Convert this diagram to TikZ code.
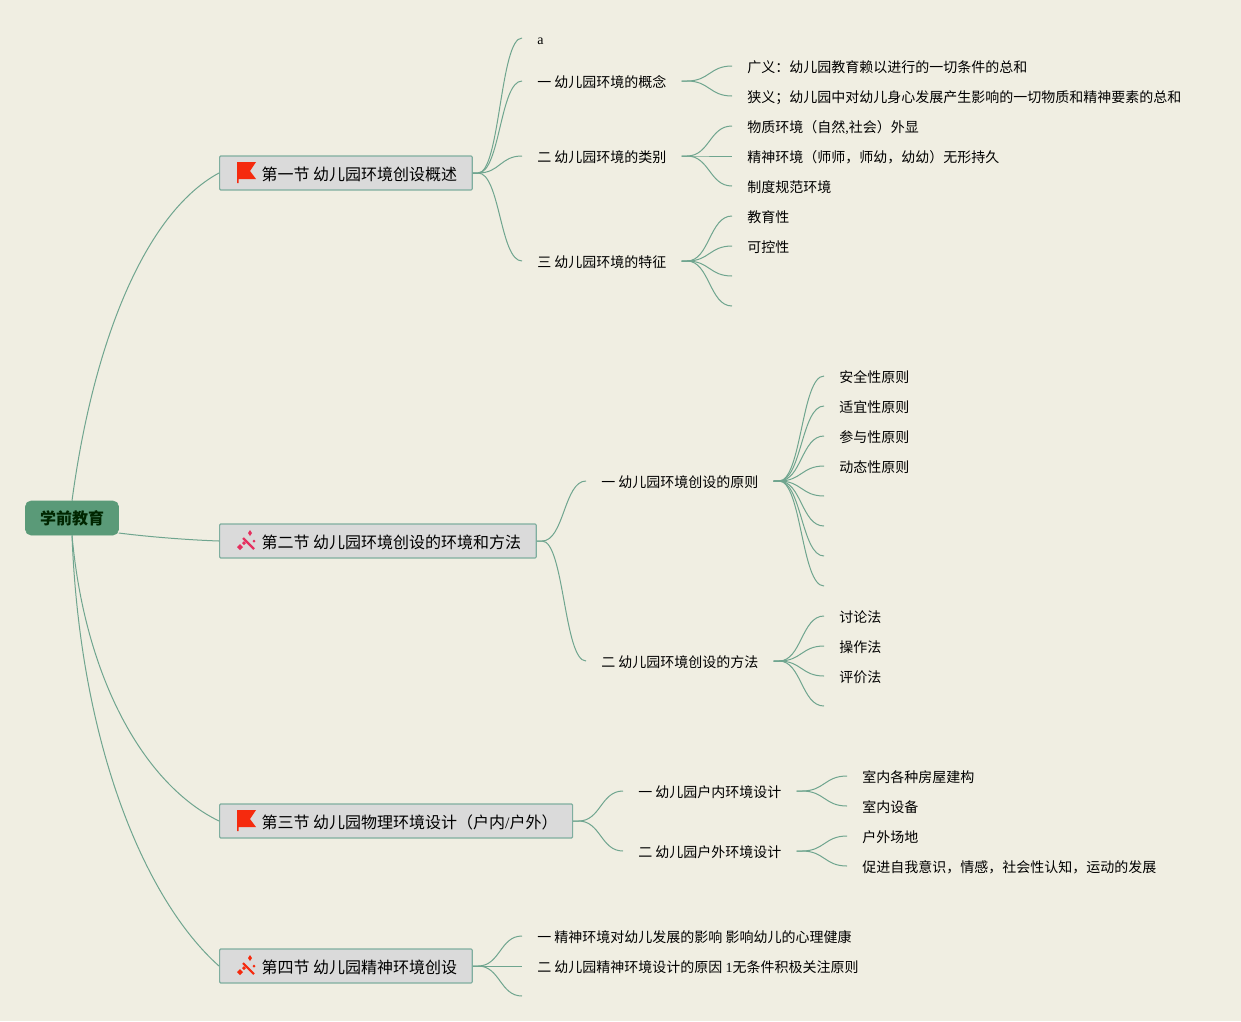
\documentclass[tikz,border=0pt]{standalone}
\usepackage{fontspec}
\setmainfont{Noto Sans CJK SC}
\newfontfamily\latinfont{Liberation Serif}
\usepackage{tikz}
\usetikzlibrary{calc}

\definecolor{paper}{HTML}{F0EEE2}
\definecolor{linkgreen}{HTML}{6FA58F}
\definecolor{rootgreen}{HTML}{5A9A78}
\definecolor{secgray}{HTML}{DADADA}
\definecolor{secedge}{HTML}{7FAE9F}
\definecolor{flagred}{HTML}{F52A0E}
\definecolor{wandpink}{HTML}{E5305F}

\tikzset{
  root/.style={draw=rootgreen, fill=rootgreen, rounded corners=4pt, font=\fontsize{12}{14}\selectfont\bfseries,
    text=black!85!green, minimum width=69.75pt, minimum height=25.5pt, inner sep=0pt},
  section/.style={draw=secedge, line width=.9pt, fill=secgray, rounded corners=.8pt, anchor=west,
    font=\fontsize{12}{14}\selectfont, minimum height=25.5pt, inner ysep=0pt, inner xsep=11.25pt,
    text height=11.5pt, text depth=1pt},
  topic/.style={anchor=west, font=\fontsize{10.5}{13}\selectfont, inner xsep=11.25pt, inner ysep=0pt,
    text height=11pt, text depth=1pt},
  link/.style={draw=linkgreen, line width=.75pt,
    to path={let \p1=(\tikztostart), \p2=(\tikztotarget), \n1={\x1/2+\x2/2+2pt} in
      -- (\x1+4pt,\y1) .. controls (\n1,\y1) and (\n1,\y2) .. (\tikztotarget)}},
  rootlink/.style={draw=linkgreen, line width=.75pt},
  flagicon/.pic={
    \fill[flagred] (-9,-11) -- (10,-11) -- (4,-2) -- (10,6) -- (-7.5,6) -- (-7.5,10) -- (-9,10) -- cycle;
  },
  wandicon/.pic={
    \draw[#1, line width=1.6pt] (-3,-3) -- (8,8);
    \fill[#1] (-9,6) -- (-6,3) -- (-3,6) -- (-6,9) -- cycle;
    \fill[#1] (-4,2) -- (-2,0) -- (0,2) -- (-2,4) -- cycle;
    \fill[#1] (4,-11) -- (6,-8) -- (4,-5) -- (2,-8) -- cycle;
    \fill[#1] (8,0) circle (1.5);
  },
}

\begin{document}
\begin{tikzpicture}[x=.75pt, y=-.75pt]
    % paper
    \fill[paper] (0,0) rectangle (1241,1021);
    \useasboundingbox (0,0) rectangle (1241,1021);

    % centre and sections
    \node[root] (main) at (72,518) {学前教育};
    \node[section] (secone) at (219,173) {\hspace*{20.25pt}第一节 幼儿园环境创设概述};
    \node[section] (sectwo) at (219,541) {\hspace*{20.25pt}第二节 幼儿园环境创设的环境和方法};
    \node[section] (secthree) at (219,821) {\hspace*{20.25pt}第三节 幼儿园物理环境设计（户内{\latinfont /}户外）};
    \node[section] (secfour) at (219,966) {\hspace*{20.25pt}第四节 幼儿园精神环境创设};

    % icons
    \pic at (246,173) {flagicon};
    \pic at (246,541) {wandicon=wandpink};
    \pic at (246,821) {flagicon};
    \pic at (246,966) {wandicon=flagred};

    % section one
    \node[topic] (blank) at (522,38) {\latinfont a};
    \node[topic] (concept) at (522,81) {一 幼儿园环境的概念};
    \node[topic] (kinds) at (522,156) {二 幼儿园环境的类别};
    \node[topic] (traits) at (522,261) {三 幼儿园环境的特征};
    \node[topic] (broad) at (732,66) {广义：幼儿园教育赖以进行的一切条件的总和};
    \node[topic] (narrow) at (732,96) {狭义；幼儿园中对幼儿身心发展产生影响的一切物质和精神要素的总和};
    \node[topic] (matter) at (732,126) {物质环境（自然{\latinfont,}社会）外显};
    \node[topic] (spirit) at (732,156) {精神环境（师师，师幼，幼幼）无形持久};
    \node[topic] (rules) at (732,186) {制度规范环境};
    \node[topic] (teach) at (732,216) {教育性};
    \node[topic] (control) at (732,246) {可控性};
    \coordinate (traitc) at (732,276);
    \coordinate (traitd) at (732,306);

    % section two
    \node[topic] (rule) at (586,481) {一 幼儿园环境创设的原则};
    \node[topic] (method) at (586,661) {二 幼儿园环境创设的方法};
    \node[topic] (safe) at (824,376) {安全性原则};
    \node[topic] (fit) at (824,406) {适宜性原则};
    \node[topic] (join) at (824,436) {参与性原则};
    \node[topic] (move) at (824,466) {动态性原则};
    \coordinate (rulee) at (824,496);
    \coordinate (rulef) at (824,526);
    \coordinate (ruleg) at (824,556);
    \coordinate (ruleh) at (824,586);
    \node[topic] (talk) at (824,616) {讨论法};
    \node[topic] (work) at (824,646) {操作法};
    \node[topic] (judge) at (824,676) {评价法};
    \coordinate (methodd) at (824,706);

    % section three
    \node[topic] (indoor) at (623,791) {一 幼儿园户内环境设计};
    \node[topic] (outdoor) at (623,851) {二 幼儿园户外环境设计};
    \node[topic] (rooms) at (847,776) {室内各种房屋建构};
    \node[topic] (gear) at (847,806) {室内设备};
    \node[topic] (yard) at (847,836) {户外场地};
    \node[topic] (self) at (847,866) {促进自我意识，情感，社会性认知，运动的发展};

    % section four
    \node[topic] (effect) at (522,936) {一 精神环境对幼儿发展的影响 影响幼儿的心理健康};
    \node[topic] (cause) at (522,966) {二 幼儿园精神环境设计的原因 {\latinfont 1}无条件积极关注原则};
    \coordinate (secfourc) at (522,996);

    % links from the centre
    \draw[rootlink] (main.north) .. controls (95,330) and (150,210) .. (secone.west);
    \draw[rootlink] (main.east |- 0,533) .. controls (150,537) and (190,540) .. (sectwo.west);
    \draw[rootlink] (main.south) .. controls (85,680) and (145,785) .. (secthree.west);
    \draw[rootlink] (main.south) .. controls (80,745) and (145,900) .. (secfour.west);

    % links between sections and topics
    \foreach \from/\to in {secone/blank, secone/concept, secone/kinds, secone/traits,
        sectwo/rule, sectwo/method, secthree/indoor, secthree/outdoor,
        secfour/effect, secfour/cause} {
      \draw[link] (\from.east) to (\to.west);
    }
    \draw[link] (secfour.east) to (secfourc);
    \foreach \from/\to in {concept/broad, concept/narrow, kinds/matter, kinds/spirit, kinds/rules,
        traits/teach, traits/control, rule/safe, rule/fit, rule/join, rule/move,
        method/talk, method/work, method/judge, indoor/rooms, indoor/gear,
        outdoor/yard, outdoor/self} {
      \draw[link] (\from.east) to (\to.west);
    }
    \foreach \from/\to in {traits/traitc, traits/traitd, rule/rulee, rule/rulef, rule/ruleg,
        rule/ruleh, method/methodd} {
      \draw[link] (\from.east) to (\to);
    }
\end{tikzpicture}
\end{document}
